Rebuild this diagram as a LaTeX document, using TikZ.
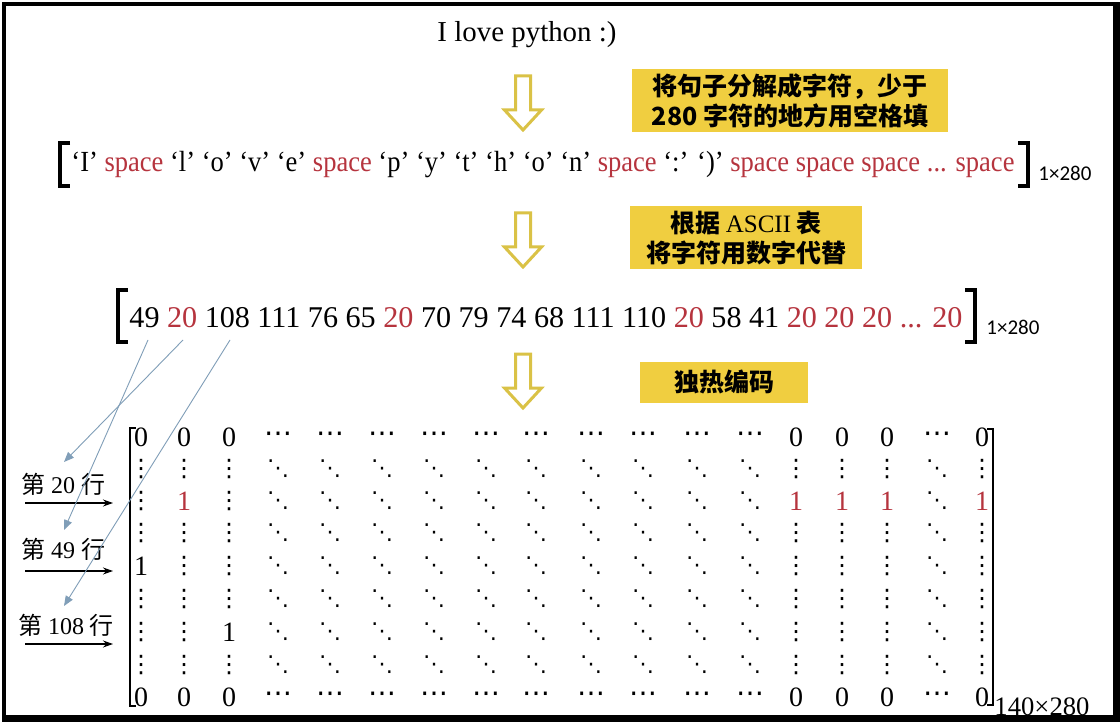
\documentclass[tikz,border=0pt]{standalone}
\usepackage{fontspec}
\setmainfont{Liberation Serif}
\newfontfamily\cjk{Noto Sans CJK SC}
\newfontfamily\dvs{DejaVu Sans}
\newfontfamily\carl{Carlito}
\usetikzlibrary{arrows.meta}
\definecolor{ybox}{RGB}{240,206,64}
\definecolor{gold}{RGB}{218,194,70}
\definecolor{redtxt}{RGB}{182,52,62}
\definecolor{bluegray}{RGB}{128,158,184}
\newcommand\rd[1]{\textcolor{redtxt}{#1}}
\newcommand\kindz{0}
\newcommand\kindo{1}
\newcommand\kindR{\textcolor{redtxt}{1}}
\newcommand\kindh{{\dvs\fontsize{28}{28}\selectfont ⋯}}
\newcommand\kindv{{\dvs\fontsize{24}{24}\selectfont ⋮}}
\newcommand\kindd{{\dvs\fontsize{22}{22}\selectfont ⋱}}
\def\rowtop{z,z,z,h,h,h,h,h,h,h,h,h,h,z,z,z,h,z}
\def\rowmid{v,v,v,d,d,d,d,d,d,d,d,d,d,v,v,v,d,v}
\def\rowred{v,R,v,d,d,d,d,d,d,d,d,d,d,R,R,R,d,R}
\def\rowfive{o,v,v,d,d,d,d,d,d,d,d,d,d,v,v,v,d,v}
\def\rowseven{v,v,o,d,d,d,d,d,d,d,d,d,d,v,v,v,d,v}
\tikzset{
  ybx/.style={fill=ybox, inner sep=0, align=center, font=\cjk\bfseries\fontsize{25}{30}\selectfont},
  cell/.style={inner sep=0, anchor=center, font=\fontsize{28}{28}\selectfont},
  brk/.style={line width=4pt, line cap=butt},
  mbrk/.style={line width=2.5pt},
  rowlab/.style={inner sep=0, font=\fontsize{24}{24}\selectfont},
  blk/.style={line width=1.2pt, -{Stealth[length=10pt,width=7pt]}},
  blu/.style={bluegray, line width=0.9pt, -{Triangle[length=10pt,width=8pt]}},
  harrow/.pic={\draw[gold, line width=3pt, line join=miter]
     (-7.5,0) -- (7.5,0) -- (7.5,34) -- (18.5,34) -- (0,54) -- (-18.5,34) -- (-7.5,34) -- cycle;}
}
\begin{document}
\begin{tikzpicture}[x=1pt,y=-1pt]
\useasboundingbox (0,0) rectangle (1120,722);
\fill[black] (2,2) rectangle (1120,722);
\fill[white] (6,6) rectangle (1113,715);

% title
\node[inner sep=0] (title) at (527,35) {\resizebox{179pt}{!}{I love python :)}};

% hollow arrows
\pic at (523,76) {harrow};
\pic at (523,213) {harrow};
\pic at (523,354) {harrow};

% yellow boxes
\node[ybx, minimum width=316pt, minimum height=63pt] (b1) at (790,101) {将句子分解成字符，少于\\280 字符的地方用空格填};
\node[ybx, minimum width=232pt, minimum height=63pt] (b2) at (746,238) {根据 {\rmfamily\mdseries ASCII} 表\\将字符用数字代替};
\node[ybx, minimum width=168pt, minimum height=41pt] (b3) at (724,382) {独热编码};

% row of characters
\node[inner sep=0] (chars) at (543,165) {\scalebox{1}[1.1]{\resizebox{943pt}{!}{‘I’ \rd{space} ‘l’ ‘o’ ‘v’ ‘e’ \rd{space} ‘p’ ‘y’ ‘t’ ‘h’ ‘o’ ‘n’ \rd{space} ‘:’ ‘)’ \rd{space space space ... space}}}};
\draw[brk] (70,143) -- (60,143) -- (60,186) -- (70,186);
\draw[brk] (1018,143) -- (1028,143) -- (1028,186) -- (1018,186);
\node[inner sep=0, font=\carl\fontsize{21}{21}\selectfont] (s1) at (1065,173) {1×280};

% row of codes
\node[inner sep=0] (codes) at (546,318) {\resizebox{833pt}{!}{49 \rd{20} 108 111 76 65 \rd{20} 70 79 74 68 111 110 \rd{20} 58 41 \rd{20 20 20 ... 20}}};
\draw[brk] (128,290) -- (118,290) -- (118,342) -- (128,342);
\draw[brk] (965,290) -- (975,290) -- (975,342) -- (965,342);
\node[inner sep=0, font=\carl\fontsize{21}{21}\selectfont] (s2) at (1013,327) {1×280};
\coordinate (c49) at (148,340);
\coordinate (c20) at (183,340);
\coordinate (c108) at (230,340);

% matrix
\foreach \r/\y/\lst in {1/437/\rowtop,2/469/\rowmid,3/501/\rowred,4/533/\rowmid,5/566/\rowfive,6/599/\rowmid,7/632/\rowseven,8/665/\rowmid,9/697/\rowtop}{
  \edef\thelist{\lst}
  \foreach \k [count=\c] in \thelist {
    \pgfmathsetmacro\xx{{141,184,229,278,330,382,434,486,536,591,643,697,750,796,842,887,937,982}[\c-1]}
    \node[cell] (m-\r-\c) at (\xx,\y) {\csname kind\k\endcsname};
  }
}
\draw[mbrk] (135.5,428) -- (130,428) -- (130,706) -- (135.5,706);
\draw[mbrk] (987,429) -- (993,429) -- (993,705) -- (987,705);
\node[inner sep=0] (s3) at (1042,707) {\resizebox{95pt}{!}{140×280}};

% row labels
\node[rowlab] (l20) at (63,484) {{\cjk 第} 20 {\cjk 行}};
\node[rowlab] (l49) at (63,549) {{\cjk 第} 49 {\cjk 行}};
\node[rowlab] (l108) at (66,625) {{\cjk 第} 108 {\cjk 行}};
\coordinate (p20a) at (25,503); \coordinate (p20b) at (113,503);
\coordinate (p49a) at (25,571); \coordinate (p49b) at (113,571);
\coordinate (p108a) at (25,644); \coordinate (p108b) at (113,644);
\draw[blk] (p20a) -- (p20b);
\draw[blk] (p49a) -- (p49b);
\draw[blk] (p108a) -- (p108b);

% blue-gray pointers
\coordinate (e20) at (64,462);
\coordinate (e49) at (64,530);
\coordinate (e108) at (64,606);
\draw[blu] (c20) -- (e20);
\draw[blu] (c49) -- (e49);
\draw[blu] (c108) -- (e108);
\end{tikzpicture}
\end{document}
